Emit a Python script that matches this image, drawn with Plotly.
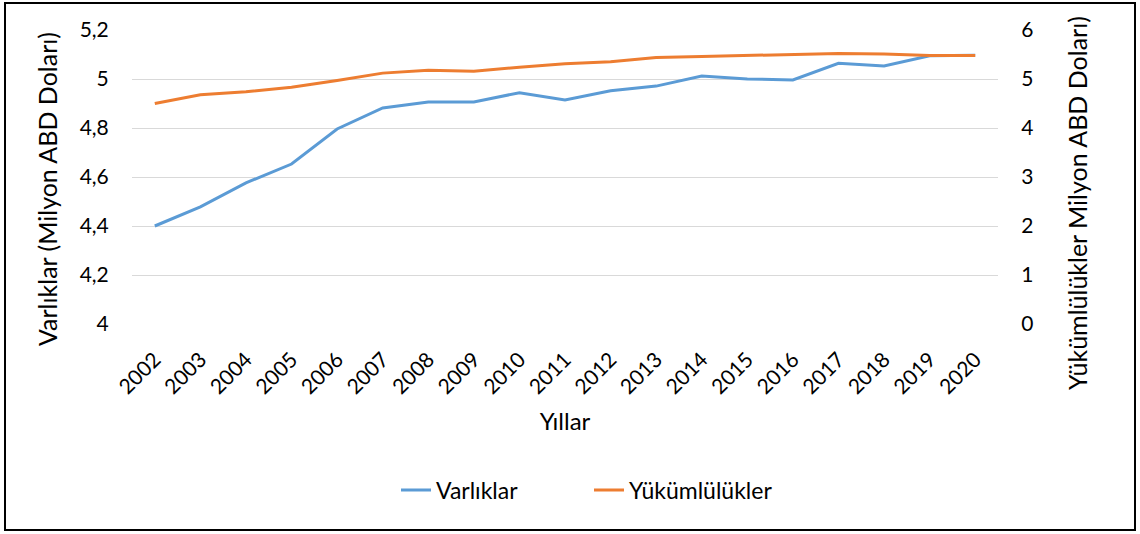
import plotly.graph_objects as go

years = [str(y) for y in range(2002, 2021)]
varliklar = [4.40, 4.478, 4.576, 4.653, 4.796, 4.882, 4.906, 4.906, 4.944, 4.914,
             4.952, 4.971, 5.012, 5.000, 4.996, 5.064, 5.053, 5.095, 5.097]
yukumlulukler = [4.50, 4.68, 4.74, 4.83, 4.97, 5.12, 5.18, 5.16, 5.24, 5.31,
                 5.35, 5.44, 5.46, 5.48, 5.49, 5.52, 5.51, 5.48, 5.48]

left_title = "Varlıklar (Milyon ABD Doları)"
right_title = "Yükümlülükler Milyon ABD Doları)"
x_title = "Yıllar"

FONT = "Lato"
fig = go.Figure()
fig.add_trace(go.Scatter(x=years, y=varliklar, name="Varlıklar", mode="lines",
                         line=dict(color="#5B9BD5", width=3), yaxis="y"))
fig.add_trace(go.Scatter(x=years, y=yukumlulukler, name="Yükümlülükler", mode="lines",
                         line=dict(color="#ED7D31", width=3), yaxis="y2"))

fig.update_layout(
    width=1140, height=534,
    margin=dict(l=132, r=142, t=30, b=210),
    paper_bgcolor="white", plot_bgcolor="white",
    separators=",.",
    font=dict(family=FONT, size=20, color="#000000"),
    showlegend=True,
    legend=dict(orientation="h", x=(589 - 132) / 866, xanchor="center", y=-0.565, yanchor="middle",
                font=dict(family=FONT, size=23), traceorder="normal",
                entrywidth=148, entrywidthmode="pixels"),
    xaxis=dict(type="category", range=[-0.5, 18.5], tickangle=-45,
               showgrid=False, showline=False, zeroline=False,
               ticks="outside", ticklen=14, tickcolor="rgba(0,0,0,0)",
               tickfont=dict(size=21),
               title=dict(text=x_title, font=dict(size=24), standoff=15)),
    yaxis=dict(range=[4, 5.2], dtick=0.2, tick0=4, showgrid=True, gridcolor="#D9D9D9",
               gridwidth=1, zeroline=False, showline=False,
               ticks="outside", ticklen=18, tickcolor="rgba(0,0,0,0)",
               tickfont=dict(size=21)),
    yaxis2=dict(range=[0, 6], dtick=1, tick0=0, overlaying="y", side="right",
                showgrid=False, zeroline=False, showline=False,
                ticks="outside", ticklen=18, tickcolor="rgba(0,0,0,0)",
                tickfont=dict(size=21)),
)

# y-axis titles (placed as in the reference, slightly below the plot centre)
fig.add_annotation(text=left_title, textangle=-90, showarrow=False,
                   xref="paper", yref="paper", x=(47 - 132) / 866, y=(324 - 189) / 294,
                   xanchor="center", yanchor="middle", font=dict(size=25))
fig.add_annotation(text=right_title, textangle=-90, showarrow=False,
                   xref="paper", yref="paper", x=(1077 - 132) / 866, y=(324 - 203) / 294,
                   xanchor="center", yanchor="middle", font=dict(size=25))

# outer chart border
fig.add_shape(type="rect", xref="paper", yref="paper",
              x0=(5 - 132) / 866, x1=(1135 - 132) / 866,
              y0=(324 - 530) / 294, y1=(324 - 3) / 294,
              line=dict(color="#000000", width=2), fillcolor="rgba(0,0,0,0)", layer="below")

fig.write_html("out.html", config={"displayModeBar": False},
               post_script="document.body.style.margin='0';")
